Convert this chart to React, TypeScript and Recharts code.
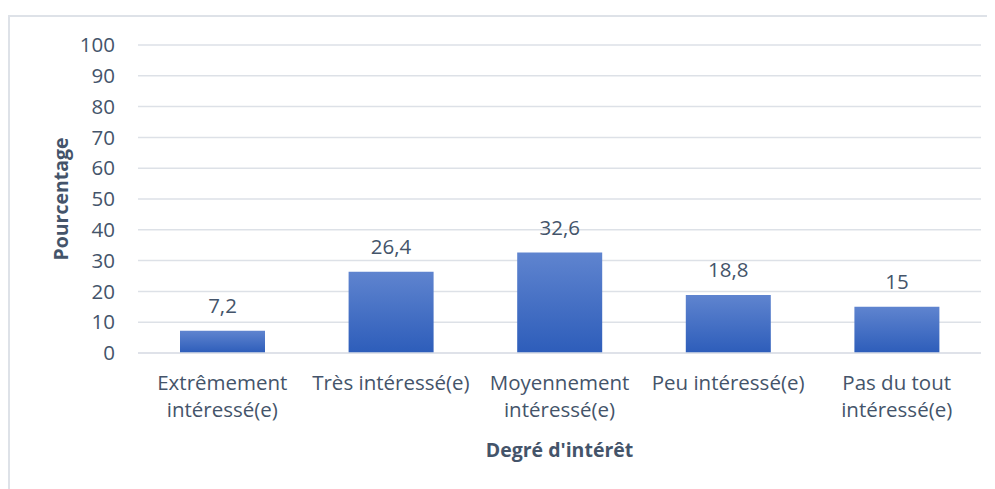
import React from 'react';
import { BarChart, Bar, XAxis, YAxis, CartesianGrid, LabelList, Label } from 'recharts';

const categories = [
  'Extrêmement\nintéressé(e)',
  'Très intéressé(e)',
  'Moyennement\nintéressé(e)',
  'Peu intéressé(e)',
  'Pas du tout\nintéressé(e)',
];
const percentages = [7.2, 26.4, 32.6, 18.8, 15];
const yTicks = [0, 10, 20, 30, 40, 50, 60, 70, 80, 90, 100];

const data = categories.map((name, i) => ({ name, value: percentages[i] }));

const textColor = '#44546A';
const font = '"Open Sans", sans-serif';

// two-line category labels, like the spreadsheet wraps them
const CategoryTick = (props: any) => {
  const { x, y, payload } = props;
  const lines = String(payload.value).split('\n');
  return (
    <text x={x} y={y} textAnchor="middle" fill={textColor} fontSize={20.5} fontFamily={font}>
      {lines.map((l, i) => (
        <tspan key={i} x={x} dy={i === 0 ? 29 : 27}>{l}</tspan>
      ))}
    </text>
  );
};

const fmt = (v: any) => String(v).replace('.', ',');

const App = () => {
  return (
    <div style={{ position: 'relative', marginTop: 7, borderTop: '2px solid #DEE2E8', borderLeft: '2px solid #DEE2E8', width: 985, height: 472 }}>
      {/* gradient for the bars, kept outside the chart */}
      <svg width={0} height={0} style={{ position: 'absolute' }}>
        <defs>
          <linearGradient id="barFill" x1="0" y1="0" x2="0" y2="1">
            <stop offset="0%" stopColor="#5F84CF" />
            <stop offset="100%" stopColor="#2D5DBA" />
          </linearGradient>
        </defs>
      </svg>
      <BarChart
        width={985}
        height={472}
        data={data}
        margin={{ top: 28, right: 14, left: 0, bottom: 0 }}
      >
        <CartesianGrid vertical={false} stroke="#DDE1E7" strokeWidth={1.5} />
        <XAxis
          dataKey="name"
          height={136}
          interval={0}
          axisLine={{ stroke: '#DDE1E7', strokeWidth: 1.5 }}
          tickLine={false}
          tick={<CategoryTick />}
        >
          <Label
            content={(p: any) => {
              const vb = p.viewBox;
              return (
                <text x={vb.x + vb.width / 2} y={vb.y + 104} textAnchor="middle" fill={textColor} fontSize={19.5} fontWeight="bold" fontFamily={font}>
                  Degré d'intérêt
                </text>
              );
            }}
          />
        </XAxis>
        <YAxis
          width={128}
          domain={[0, 100]}
          ticks={yTicks}
          axisLine={false}
          tickLine={false}
          tickMargin={17}
          tick={{ fill: textColor, fontSize: 20.5, fontFamily: font }}
        >
          <Label
            content={(p: any) => {
              const vb = p.viewBox;
              const cx = 50;
              const cy = vb.y + vb.height / 2;
              return (
                <text x={cx} y={cy} transform={`rotate(-90, ${cx}, ${cy})`} textAnchor="middle" dominantBaseline="central" fill={textColor} fontSize={19.5} fontWeight="bold" fontFamily={font}>
                  Pourcentage
                </text>
              );
            }}
          />
        </YAxis>
        <Bar dataKey="value" fill="url(#barFill)" barSize={85} isAnimationActive={false}>
          <LabelList
            dataKey="value"
            position="top"
            offset={18}
            fill={textColor}
            fontSize={20.5}
            fontFamily={font}
            formatter={fmt}
          />
        </Bar>
      </BarChart>
    </div>
  );
};

export default App;
